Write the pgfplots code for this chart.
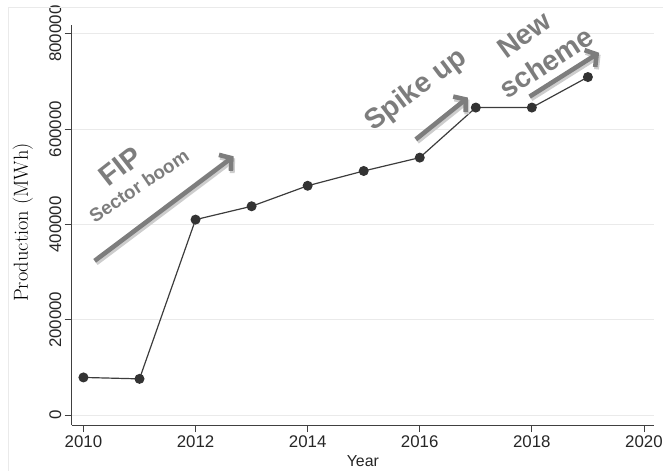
\documentclass[border=0pt]{standalone}
\usepackage{fontspec}
\setsansfont{Liberation Sans}
\usepackage{pgfplots}
\pgfplotsset{compat=1.18}
\usetikzlibrary{arrows.meta}
\definecolor{anno}{RGB}{125,125,125}
\definecolor{annoshadow}{RGB}{205,205,205}
\definecolor{lineC}{RGB}{60,60,60}
\definecolor{gridC}{RGB}{234,234,234}
\newcommand{\annotxt}[5]{% x, y, angle, size, text
  \node[rotate=#3, text=anno, font=\sffamily\bfseries\fontsize{#4}{#4}\selectfont] at (axis cs:#1,#2) {#5};
}
\newcommand{\annoarrow}[4]{%
  \draw[annoshadow, line width=5bp, -{Straight Barb[length=8bp,width=20bp]}, transform canvas={shift={(1.5bp,-2.2bp)}}] (axis cs:#1,#2) -- (axis cs:#3,#4);
  \draw[anno, line width=4.6bp, -{Straight Barb[length=8bp,width=20bp]}] (axis cs:#1,#2) -- (axis cs:#3,#4);
}
\begin{document}
\begin{tikzpicture}
\begin{axis}[
  name=ax,
  scale only axis,
  width=585bp, height=402bp,
  xmin=2009.79, xmax=2020.18,
  ymin=-20900, ymax=818400,
  axis x line*=bottom, axis y line*=left,
  axis line style={draw=black!75, line width=0.9bp, -},
  xtick={2010,2012,2014,2016,2018,2020},
  ytick={0,200000,400000,600000,800000},
  scaled y ticks=false,
  tick align=outside,
  major tick length=7bp,
  tick style={draw=black!75, line width=0.8bp},
  x tick label style={/pgf/number format/1000 sep={}},
  y tick label style={/pgf/number format/1000 sep={}, /pgf/number format/fixed, rotate=90, anchor=south},
  /pgf/number format/assume math mode=true,
  tick label style={font=\sffamily\fontsize{17}{17}\selectfont, text=black!85},
  ymajorgrids,
  major grid style={draw=gridC, line width=1bp},
  xlabel={Year},
  ylabel={Production (MWh)},
  xlabel style={font=\sffamily\fontsize{16}{16}\selectfont, text=black!85, at={(axis description cs:0.5,-0.0896)}, anchor=center},
  ylabel style={font=\rmfamily\fontsize{20.5}{20.5}\selectfont, text=black, at={(axis description cs:-0.0838,0.506)}, anchor=center, rotate=0},
  clip=false,
]
\addplot[color=lineC, line width=1.2bp, mark=*, mark size=4.4bp, mark options={fill=black!80, draw=black!80}]
  coordinates {
  (2010,79000) (2011,76000) (2012,410000) (2013,438000) (2014,481000)
  (2015,512000) (2016,540000) (2017,645000) (2018,645000) (2019,709000)
  };
\annoarrow{2010.20}{323600}{2012.68}{542800}
\annoarrow{2015.93}{578300}{2016.86}{666000}
\annoarrow{2017.96}{668000}{2019.20}{760000}
\annotxt{2010.66}{522000}{38}{29}{FIP}
\annotxt{2010.99}{480800}{34}{19}{Sector boom}
\annotxt{2015.94}{681200}{37}{28.5}{Spike up}
\annotxt{2017.86}{797500}{36}{28.5}{New}
\annotxt{2018.26}{739700}{33}{28.5}{scheme}
\end{axis}
\draw[gridC, line width=0.8bp] (ax.south west) ++(-64bp,-46bp) -- ++(0,466bp) -- ++(658bp,0);
\path (ax.south west) ++(-72bp,-46bp) rectangle ++(666bp,473bp);
\end{tikzpicture}
\end{document}
